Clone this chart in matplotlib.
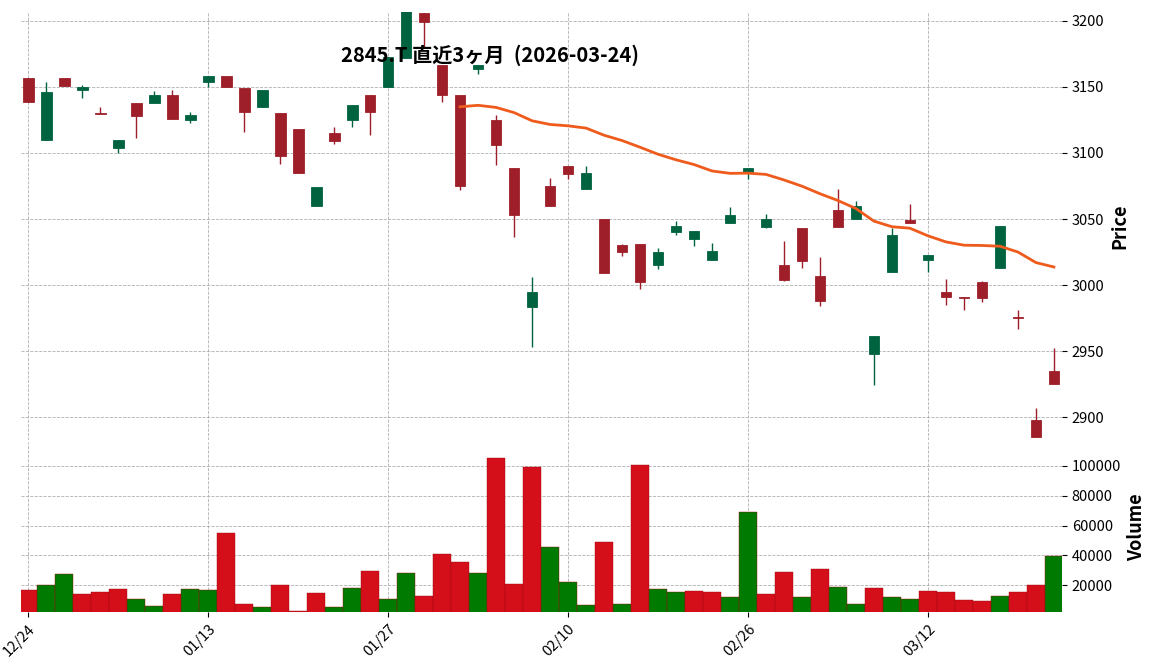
import numpy as np
import pandas as pd
import matplotlib
matplotlib.use("Agg")
import matplotlib.pyplot as plt
from matplotlib.ticker import MultipleLocator, FuncFormatter

plt.rcParams['font.family'] = ['Noto Sans CJK JP', 'DejaVu Sans']

DATES = ["12/24", "01/13", "01/27", "02/10", "02/26", "03/12"]
DATE_POS = [0, 10, 20, 30, 40, 50]

OPEN = [3157, 3110, 3157, 3147.5, 3130, 3104, 3138, 3138, 3144, 3125,
        3153.5, 3158, 3149, 3135, 3130, 3118, 3060, 3115, 3125, 3144,
        3150, 3172, 3206, 3167, 3144, 3164, 3125, 3089, 2983, 3075,
        3090, 3073, 3050, 3030, 3031, 3015, 3040, 3035, 3019, 3047,
        3085, 3044, 3015, 3043, 3007, 3057, 3050, 2947.5, 3010, 3049,
        3019, 2995, 2991, 3002, 3013, 2975.4, 2898, 2935]
CLOSE = [3139, 3146, 3151, 3150, 3129.5, 3110, 3128, 3144, 3125.5, 3129,
         3158, 3150, 3131, 3148, 3098, 3085, 3074, 3109, 3136, 3131,
         3173, 3212, 3199, 3144, 3075, 3167, 3106, 3053, 2995, 3060,
         3084, 3085, 3009, 3025, 3002.5, 3025, 3045, 3041, 3026, 3053,
         3089, 3050, 3004, 3018, 2988, 3044, 3060, 2961, 3038, 3047,
         3023, 2991, 2990.5, 2990, 3045, 2975, 2885, 2925]
HIGH = [3157, 3154, 3157, 3151.5, 3135, 3110, 3138, 3147, 3148, 3131,
        3158, 3158, 3149, 3148, 3130, 3118, 3074, 3120, 3136, 3144,
        3173, 3212, 3206, 3167, 3144, 3167, 3129, 3089, 3006, 3081,
        3090, 3090, 3050, 3031, 3031, 3028, 3048.5, 3041, 3032, 3059,
        3089, 3054, 3033, 3043, 3021, 3073, 3064, 2961, 3043, 3061,
        3023, 3004.5, 2991, 3003, 3045, 2981, 2907, 2952.5]
LOW = [3139, 3110, 3151, 3142, 3129.5, 3100, 3111, 3138, 3125.5, 3123,
       3150, 3150, 3116, 3135, 3092, 3085, 3060, 3107, 3120, 3114,
       3150, 3172, 3180, 3139, 3072, 3160, 3091, 3036, 2953, 3060,
       3080, 3073, 3009, 3022, 2997, 3012, 3038, 3029.5, 3019, 3047,
       3080, 3043, 3003, 3013, 2984, 3044, 3050, 2924, 3010, 3047,
       3010, 2985, 2981, 2987, 3013, 2967, 2885, 2925]
VOLUME = [16900, 19800, 27560, 14230, 15560, 17560, 10900, 6230, 14230, 17560,
          16900, 54900, 7560, 5560, 19800, 2900, 14900, 5560, 18230, 29560,
          10900, 28230, 12900, 40900, 35560, 28230, 105560, 20900, 99560, 45560,
          22230, 6900, 48900, 7560, 100900, 17560, 15560, 16230, 15560, 12230,
          68900, 14230, 28900, 12230, 30900, 18900, 7560, 18230, 12230, 10900,
          16230, 15560, 10230, 9560, 12900, 15560, 20230, 39560]

UP_C, DOWN_C = "#006340", "#9e1f2a"
VUP_C, VDOWN_C = "#007a00", "#d50f1a"

o = np.array(OPEN); c = np.array(CLOSE)
h = np.array(HIGH); l = np.array(LOW)
v = np.array(VOLUME)
x = np.arange(len(o))
ma = pd.Series(c).rolling(25).mean()

fig = plt.figure(figsize=(11.52, 6.7), dpi=100)
ax = fig.add_axes([21/1152, 1-440/670, 1041/1152, 428/670])
axv = fig.add_axes([21/1152, 1-612/670, 1041/1152, 170/670], sharex=ax)

up = c >= o
ccol = np.where(up, UP_C, DOWN_C)
ax.vlines(x, l, h, colors=ccol, linewidth=1.0, zorder=2)
body_h = np.maximum(np.abs(c - o), 0.6)
ax.bar(x, body_h, bottom=np.minimum(o, c), width=0.6, color=ccol,
       edgecolor=ccol, linewidth=0.6, zorder=3)
ax.plot(x, ma, color="#ee5b1c", linewidth=2.0, zorder=4)

vup = np.concatenate([[False], c[1:] >= c[:-1]])
vcol = np.where(vup, VUP_C, VDOWN_C)
axv.bar(x, v, width=1.0, color=vcol, edgecolor="#9a0a12", linewidth=0.3,
        zorder=3)

for a in (ax, axv):
    a.grid(True, color="#b0b0b0", linestyle="--", linewidth=0.6, zorder=0)
    a.yaxis.tick_right()
    a.yaxis.set_label_position("right")
    for s in a.spines.values():
        s.set_visible(False)
    a.tick_params(labelsize=10.5)

ax.set_xlim(-0.4, 57.45)
ax.set_ylim(2882.6, 3206.8)
ax.yaxis.set_major_locator(MultipleLocator(50))
ax.set_ylabel("Price", fontsize=13, fontweight="bold")
ax.tick_params(axis="x", labelbottom=False, length=0)

axv.set_ylim(2000, 116000)
axv.set_yticks([20000, 40000, 60000, 80000, 100000])
axv.yaxis.set_major_formatter(FuncFormatter(lambda val, p: f"{int(val)}"))
axv.set_ylabel("Volume", fontsize=13, fontweight="bold")
axv.set_xticks(DATE_POS)
axv.set_xticklabels(DATES, rotation=45, ha="right", rotation_mode="anchor")

fig.text(490/1152, 1-55/670, "2845.T 直近3ヶ月  (2026-03-24)", ha="center",
         va="center", fontsize=14.5, fontweight="bold")

fig.savefig("out.png", dpi=100)
